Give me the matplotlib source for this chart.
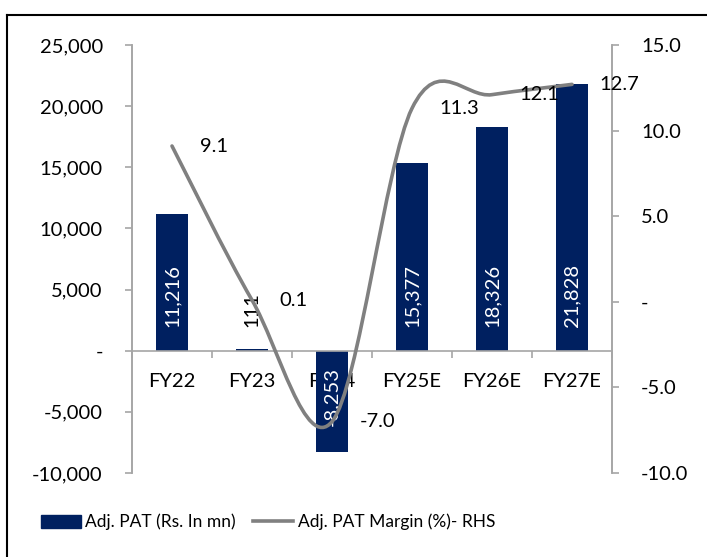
import matplotlib
matplotlib.use('Agg')
import matplotlib.pyplot as plt
from matplotlib.path import Path
from matplotlib.patches import PathPatch
from matplotlib.lines import Line2D
from matplotlib.ticker import FuncFormatter

NAVY = '#002060'
GRAY = '#808080'
AXIS = '#a6a6a6'

years = ['FY22', 'FY23', 'FY24', 'FY25E', 'FY26E', 'FY27E']
adj_pat = [11216, 111, -8253, 15377, 18326, 21828]
pat_margin = [9.1, 0.1, -7.0, 11.3, 12.1, 12.7]

plt.rcParams.update({
    'font.family': ['Lato', 'DejaVu Sans'],
    'font.size': 14.5,
})

fig = plt.figure(figsize=(7.07, 5.57), dpi=100)
ax = fig.add_axes([132 / 707, 1 - 473 / 557, 480 / 707, 428 / 557])
ax2 = ax.twinx()

x = list(range(len(years)))
ax.bar(x, adj_pat, width=0.4, color=NAVY, zorder=2)

ax.set_xlim(-0.5, len(years) - 0.5)
ax.set_ylim(-10000, 25000)
ax.set_yticks(range(-10000, 25001, 5000))
ax.yaxis.set_major_formatter(FuncFormatter(lambda v, _: '-' if v == 0 else f'{v:,.0f}'))
ax2.set_ylim(-10, 15)
ax2.set_yticks([-10, -5, 0, 5, 10, 15])
ax2.yaxis.set_major_formatter(FuncFormatter(lambda v, _: '-' if v == 0 else f'{v:.1f}'))

# category axis sits on zero, ticks between the categories
ax.spines['bottom'].set_position(('data', 0))
for a in (ax, ax2):
    a.spines['top'].set_visible(False)
    for s in ('left', 'right', 'bottom'):
        a.spines[s].set_color(AXIS)
        a.spines[s].set_linewidth(1.2)
ax2.spines['bottom'].set_visible(False)
ax.set_xticks(x)
ax.set_xticklabels(years)
ax.set_xticks([i - 0.5 for i in range(len(years) + 1)], minor=True)
ax.tick_params(axis='x', which='major', length=0, pad=16)
ax.tick_params(axis='x', which='minor', length=5, color=AXIS, width=1.2)
ax.tick_params(axis='y', length=5, color=AXIS, width=1.2, pad=16)
ax2.tick_params(axis='y', length=5, color=AXIS, width=1.2, pad=16)

# bar value labels, rotated, starting near the base
for i, v in enumerate(adj_pat):
    col = 'black' if abs(v) < 1000 else 'white'
    if v >= 0:
        ax.annotate(f'{v:,}', (i, 0), xytext=(0, 17), textcoords='offset points',
                    rotation=90, ha='center', va='bottom', color=col, zorder=3)
    else:
        ax.annotate(f'{v:,}', (i, 0), xytext=(0, -12), textcoords='offset points',
                    rotation=90, ha='center', va='top', color=col, zorder=3)

# smoothed margin line (Catmull-Rom style bezier through the points)
pts = list(zip(x, pat_margin))
verts = [pts[0]]
codes = [Path.MOVETO]
for i in range(len(pts) - 1):
    p0 = pts[i - 1] if i > 0 else pts[i]
    p1, p2 = pts[i], pts[i + 1]
    p3 = pts[i + 2] if i + 2 < len(pts) else pts[i + 1]
    c1 = (p1[0] + (p2[0] - p0[0]) / 6, p1[1] + (p2[1] - p0[1]) / 6)
    c2 = (p2[0] - (p3[0] - p1[0]) / 6, p2[1] - (p3[1] - p1[1]) / 6)
    verts += [c1, c2, p2]
    codes += [Path.CURVE4] * 3
ax2.add_patch(PathPatch(Path(verts, codes), facecolor='none', edgecolor=GRAY,
                        lw=2.6, capstyle='round', zorder=4))

for i, v in enumerate(pat_margin):
    ax2.annotate(f'{v:.1f}', (i, v), xytext=(20, 0), textcoords='offset points',
                 ha='left', va='center', color='black', zorder=5)

handles = [plt.Rectangle((0, 0), 1, 1, color=NAVY),
           Line2D([], [], color=GRAY, lw=2.6)]
fig.legend(handles, ['Adj. PAT (Rs. In mn)', 'Adj. PAT Margin (%)- RHS'],
           loc='center', bbox_to_anchor=(268 / 707, 1 - 522 / 557), ncol=2,
           frameon=False, handlelength=2.3, handleheight=0.8,
           handletextpad=0.25, columnspacing=1.0, fontsize=12.5)

# outer frame: top and left edges
fig.add_artist(Line2D([7 / 707, 1], [1 - 15 / 557] * 2, color='black', lw=1.5,
                      transform=fig.transFigure))
fig.add_artist(Line2D([7 / 707] * 2, [0, 1 - 15 / 557], color='black', lw=1.5,
                      transform=fig.transFigure))

plt.savefig('out.png', dpi=100)
